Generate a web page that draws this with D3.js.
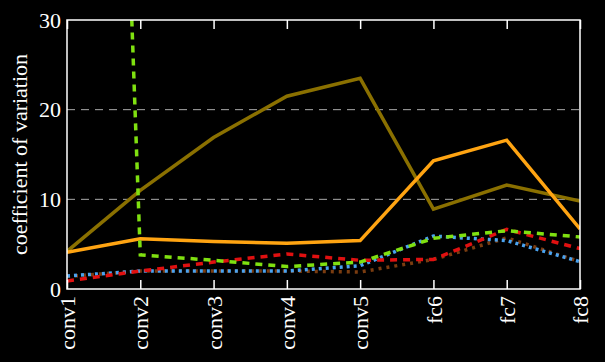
<!DOCTYPE html>
<html><head><meta charset="utf-8">
<script src="https://cdn.jsdelivr.net/npm/d3@7"></script>
<style>html,body{margin:0;padding:0;background:#000;}svg{display:block;}
svg text{font-family:"Liberation Serif","Times New Roman","DejaVu Serif",serif !important;}
</style>
</head><body>
<script>
const categories = ["conv1","conv2","conv3","conv4","conv5","fc6","fc7","fc8"];
const yTicks = [0,10,20,30];
const olive  = [4.2, 11.0, 16.9, 21.5, 23.5, 8.9, 11.6, 9.8];
const orange = [4.1, 5.6, 5.3, 5.1, 5.4, 14.3, 16.6, 6.7];
const green  = [230, 3.8, 3.2, 2.5, 3.0, 5.65, 6.5, 5.8];
const red    = [0.9, 2.0, 3.0, 3.9, 3.2, 3.3, 6.65, 4.5];
const brown  = [1.4, 2.0, 2.0, 2.0, 1.9, 3.3, 5.7, 3.05];
const blue   = [1.45, 2.0, 2.0, 2.0, 2.6, 5.9, 5.4, 3.05];

const W = 605, H = 362;
const m = {l:67, r:25, t:20, b:73};
const svg = d3.select("body").append("svg").attr("width", W).attr("height", H)
  .style("background", "#000");
const x = d3.scalePoint().domain(categories).range([m.l, W - m.r]);
const y = d3.scaleLinear().domain([0,30]).range([H - m.b, m.t]);

svg.append("defs").append("clipPath").attr("id","clip")
  .append("rect").attr("x", m.l).attr("y", m.t).attr("width", W-m.l-m.r).attr("height", H-m.t-m.b);

// grid
svg.append("g").selectAll("line").data([10,20]).join("line")
  .attr("x1", m.l).attr("x2", W-m.r).attr("y1", d=>y(d)).attr("y2", d=>y(d))
  .attr("stroke", "#aaa").attr("stroke-width", 1).attr("stroke-dasharray", "8,6");

const fs = "22px";

// series
const series = [
  {data: olive,  color: "#8a7000", w: 3.5, dash: null},
  {data: orange, color: "#ffa412", w: 3.5, dash: null},
  {data: brown,  color: "#7a3c10", w: 3.5, dash: "3,5"},
  {data: blue,   color: "#4aa3f0", w: 3.5, dash: "3,4"},
  {data: red,    color: "#e01010", w: 3.5, dash: "7,6"},
  {data: green,  color: "#7fe010", w: 3.5, dash: "7,6"},
];
const line = d3.line().x((d,i)=>x(categories[i])).y(d=>y(d));
const g = svg.append("g").attr("clip-path","url(#clip)");
series.forEach(s=>{
  const p = g.append("path").datum(s.data).attr("d", line)
    .attr("fill","none").attr("stroke", s.color).attr("stroke-width", s.w);
  if (s.dash) p.attr("stroke-dasharray", s.dash);
});

// frame
svg.append("rect").attr("x", m.l).attr("y", m.t).attr("width", W-m.l-m.r).attr("height", H-m.t-m.b)
  .attr("fill","none").attr("stroke","#fff").attr("stroke-width",1.5);

// x axis (ticks inward)
const xb = svg.append("g").attr("transform", `translate(0,${H-m.b})`)
  .call(d3.axisBottom(x).tickSizeInner(-9).tickSizeOuter(0));
xb.select(".domain").remove();
xb.attr("font-family", null);
xb.selectAll(".tick line").attr("stroke","#fff").attr("stroke-width",1.5);
xb.selectAll(".tick text").attr("fill","#fff").style("font-size", fs)
  .attr("transform","rotate(-90)").attr("text-anchor","end").attr("x",-7).attr("y",0).attr("dy","0.35em");

const xt = svg.append("g").attr("transform", `translate(0,${m.t})`)
  .call(d3.axisTop(x).tickSizeInner(-9).tickSizeOuter(0).tickFormat(""));
xt.select(".domain").remove();
xt.selectAll(".tick line").attr("stroke","#fff").attr("stroke-width",1.5);

// y axis
const ya = svg.append("g").attr("transform", `translate(${m.l},0)`)
  .call(d3.axisLeft(y).tickValues(yTicks).tickSize(0).tickPadding(6));
ya.select(".domain").remove();
ya.attr("font-family", null);
ya.selectAll(".tick text").attr("fill","#fff").style("font-size", fs);

svg.append("text").attr("transform", `translate(27,${(m.t + H - m.b)/2}) rotate(-90)`)
  .attr("text-anchor","middle").attr("fill","#fff").style("font-size", fs)
  .text("coefficient of variation");
</script>
</body></html>
